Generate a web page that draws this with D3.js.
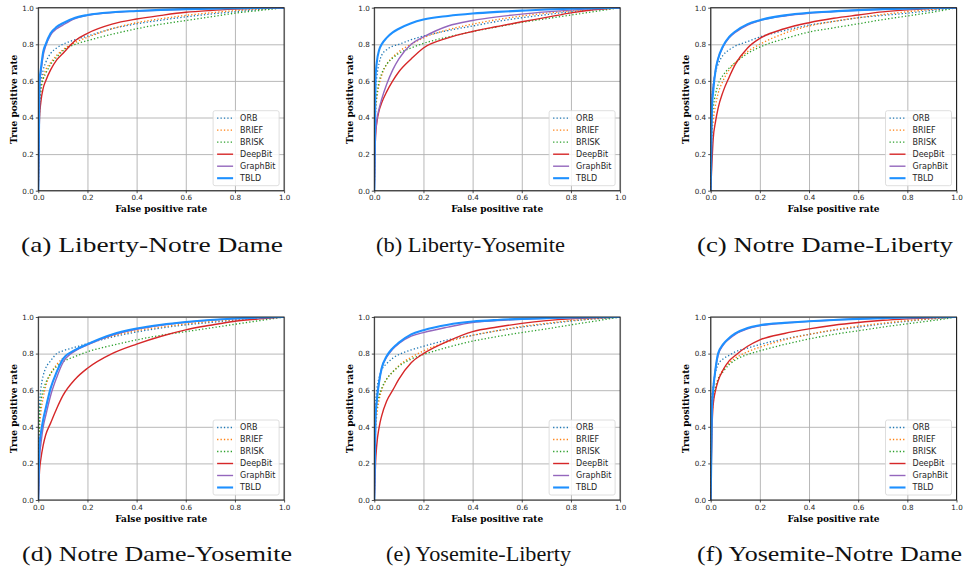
<!DOCTYPE html>
<html>
<head>
<meta charset="utf-8">
<script src="https://cdn.jsdelivr.net/npm/d3@7"></script>
<style>
  body { margin: 0; background: #fff; }
  svg { display: block; }
</style>
</head>
<body>
<svg id="fig" width="963" height="570"></svg>
<script>
// False positive rates shared by every ROC curve
const fpr = [0, 0.005, 0.01, 0.02, 0.03, 0.05, 0.075, 0.1, 0.15, 0.2, 0.3, 0.4, 0.5, 0.6, 0.7, 0.8, 0.9, 1];

const methods = ["ORB", "BRIEF", "BRISK", "DeepBit", "GraphBit", "TBLD"];
const tickValues = [0, 0.2, 0.4, 0.6, 0.8, 1.0];
const captions = [
  "(a) Liberty-Notre Dame", "(b) Liberty-Yosemite", "(c) Notre Dame-Liberty",
  "(d) Notre Dame-Yosemite", "(e) Yosemite-Liberty", "(f) Yosemite-Notre Dame"
];

// True positive rates, one row per method (same order as `methods`)
const tprLibertyNotreDame = [
  [0, .50, .58, .66, .70, .75, .78, .80, .825, .845, .885, .912, .932, .95, .965, .978, .99, 1],
  [0, .42, .54, .62, .66, .70, .74, .77, .81, .838, .885, .918, .94, .958, .972, .984, .993, 1],
  [0, .45, .54, .61, .64, .69, .73, .765, .80, .82, .855, .885, .91, .93, .95, .97, .985, 1],
  [0, .40, .48, .56, .60, .66, .715, .75, .82, .86, .91, .938, .958, .975, .985, .992, .997, 1],
  [0, .58, .64, .74, .79, .85, .885, .905, .94, .958, .973, .981, .987, .991, .995, .997, .999, 1],
  [0, .60, .66, .76, .80, .86, .895, .915, .945, .96, .975, .982, .988, .992, .995, .997, .999, 1]
];
const tprLibertyYosemite = [
  [0, .55, .62, .70, .74, .77, .79, .80, .825, .845, .875, .90, .925, .945, .962, .978, .99, 1],
  [0, .42, .50, .58, .63, .69, .73, .76, .80, .835, .88, .91, .935, .955, .97, .982, .992, 1],
  [0, .45, .52, .60, .64, .69, .725, .75, .78, .805, .84, .87, .895, .92, .94, .96, .98, 1],
  [0, .30, .37, .44, .48, .54, .60, .65, .72, .78, .835, .87, .897, .923, .947, .972, .99, 1],
  [0, .30, .38, .45, .50, .58, .66, .72, .80, .84, .90, .93, .95, .965, .977, .987, .995, 1],
  [0, .62, .70, .77, .80, .835, .865, .885, .915, .935, .955, .968, .977, .984, .99, .994, .997, 1]
];
const tprNotreDameLiberty = [
  [0, .50, .57, .65, .69, .74, .77, .79, .815, .84, .875, .905, .925, .945, .958, .97, .985, 1],
  [0, .30, .38, .47, .53, .60, .66, .70, .76, .80, .86, .90, .925, .945, .963, .978, .99, 1],
  [0, .38, .45, .53, .58, .63, .67, .70, .75, .785, .83, .867, .89, .912, .935, .955, .975, 1],
  [0, .15, .28, .38, .45, .54, .62, .69, .78, .832, .885, .918, .942, .96, .977, .988, .995, 1],
  [0, .50, .57, .66, .72, .785, .835, .865, .905, .93, .955, .97, .979, .986, .991, .995, .998, 1],
  [0, .45, .54, .66, .72, .79, .84, .87, .91, .932, .958, .972, .98, .987, .992, .995, .998, 1]
];
const tprNotreDameYosemite = [
  [0, .52, .60, .68, .72, .76, .80, .815, .835, .855, .89, .918, .94, .957, .97, .982, .992, 1],
  [0, .38, .47, .56, .62, .69, .74, .775, .82, .85, .895, .925, .945, .962, .975, .985, .993, 1],
  [0, .45, .53, .60, .64, .69, .73, .755, .785, .81, .845, .875, .90, .92, .94, .96, .98, 1],
  [0, .16, .22, .30, .355, .42, .50, .57, .66, .72, .80, .852, .895, .93, .955, .977, .99, 1],
  [0, .24, .30, .40, .46, .57, .67, .75, .815, .848, .90, .933, .955, .971, .983, .991, .997, 1],
  [0, .30, .36, .44, .50, .61, .70, .77, .82, .852, .905, .937, .958, .973, .984, .992, .997, 1]
];
const tprYosemiteLiberty = [
  [0, .52, .60, .67, .71, .745, .775, .795, .82, .84, .875, .90, .925, .945, .962, .978, .99, 1],
  [0, .38, .46, .55, .60, .66, .70, .735, .78, .815, .865, .90, .925, .948, .965, .98, .99, 1],
  [0, .42, .50, .57, .61, .66, .70, .73, .77, .795, .835, .868, .893, .915, .935, .957, .978, 1],
  [0, .20, .30, .40, .46, .54, .60, .66, .75, .80, .868, .92, .945, .965, .98, .99, .996, 1],
  [0, .45, .54, .65, .72, .78, .825, .855, .895, .915, .945, .97, .98, .988, .993, .996, .998, 1],
  [0, .45, .54, .65, .72, .785, .83, .86, .905, .928, .958, .975, .984, .99, .994, .997, .999, 1]
];
const tprYosemiteNotreDame = [
  [0, .55, .62, .70, .74, .77, .79, .81, .83, .85, .88, .905, .927, .945, .962, .977, .99, 1],
  [0, .45, .53, .61, .66, .71, .75, .775, .81, .835, .875, .905, .93, .95, .966, .98, .99, 1],
  [0, .48, .55, .62, .66, .70, .74, .765, .795, .815, .85, .88, .905, .925, .945, .963, .98, 1],
  [0, .38, .52, .60, .65, .71, .76, .79, .84, .875, .91, .935, .955, .97, .982, .99, .996, 1],
  [0, .50, .60, .72, .79, .845, .88, .905, .935, .952, .967, .976, .984, .99, .994, .997, .999, 1],
  [0, .50, .60, .72, .80, .85, .885, .91, .94, .955, .968, .977, .984, .99, .994, .997, .999, 1]
];

const panelData = [
  tprLibertyNotreDame, tprLibertyYosemite, tprNotreDameLiberty,
  tprNotreDameYosemite, tprYosemiteLiberty, tprYosemiteNotreDame
];

// Line styles per method
const styles = [
  { color: "#1f77b4", width: 1.3, dash: "1.3,2.1" },
  { color: "#ff7f0e", width: 1.3, dash: "1.3,2.1" },
  { color: "#2ca02c", width: 1.3, dash: "1.3,2.1" },
  { color: "#d62728", width: 1.4, dash: null },
  { color: "#9467bd", width: 1.4, dash: null },
  { color: "#1e90ff", width: 2.1, dash: null }
];

// Grid layout of the six panels
const colLeft = [38.3, 374.3, 710.7];
const rowTop = [7.7, 317];
const plotW = 245.8, plotH = 183;
// Caption placement under each sub-figure: centre x and rendered width
const captionCenter = [152, 470.5, 825, 157, 478.5, 829.5];
const captionWidth = [262, 189, 256, 270, 185, 265];

const svg = d3.select("#fig");
const fmt = d3.format(".1f");

panelData.forEach((rows, i) => {
  const col = i % 3, row = Math.floor(i / 3);
  const left = colLeft[col], top = rowTop[row];
  const x = d3.scaleLinear().domain([0, 1]).range([left, left + plotW]);
  const y = d3.scaleLinear().domain([0, 1]).range([top + plotH, top]);
  const g = svg.append("g");

  // grid
  g.append("g")
    .attr("transform", `translate(0,${top + plotH})`)
    .call(d3.axisBottom(x).tickValues(tickValues).tickSize(-plotH).tickFormat(""))
    .call(a => a.select(".domain").remove())
    .call(a => a.selectAll("line").attr("stroke", "#b0b0b0").attr("stroke-width", 0.9));
  g.append("g")
    .attr("transform", `translate(${left},0)`)
    .call(d3.axisLeft(y).tickValues(tickValues).tickSize(-plotW).tickFormat(""))
    .call(a => a.select(".domain").remove())
    .call(a => a.selectAll("line").attr("stroke", "#b0b0b0").attr("stroke-width", 0.9));

  // curves
  const clipId = "clip" + i;
  g.append("clipPath").attr("id", clipId)
    .append("rect").attr("x", left).attr("y", top).attr("width", plotW).attr("height", plotH);
  const line = d3.line()
    .x((d, k) => x(fpr[k]))
    .y(d => y(d))
    .curve(d3.curveMonotoneX);
  const curves = g.append("g").attr("clip-path", `url(#${clipId})`);
  rows.forEach((vals, m) => {
    const s = styles[m];
    curves.append("path")
      .datum(vals)
      .attr("d", line)
      .attr("fill", "none")
      .attr("stroke", s.color)
      .attr("stroke-width", s.width)
      .attr("stroke-dasharray", s.dash)
      .attr("stroke-linejoin", "round");
  });

  // axes with ticks and labels
  const xAxis = g.append("g")
    .attr("transform", `translate(0,${top + plotH})`)
    .call(d3.axisBottom(x).tickValues(tickValues).tickFormat(fmt).tickSize(2.5).tickPadding(2));
  const yAxis = g.append("g")
    .attr("transform", `translate(${left},0)`)
    .call(d3.axisLeft(y).tickValues(tickValues).tickFormat(fmt).tickSize(2.5).tickPadding(2));
  [xAxis, yAxis].forEach(a => {
    a.select(".domain").remove();
    a.selectAll("line").attr("stroke", "#262626").attr("stroke-width", 0.8);
    a.selectAll("text").attr("font-family", "DejaVu Sans").attr("font-size", 7.2).attr("fill", "#262626");
  });

  // frame
  g.append("rect")
    .attr("x", left).attr("y", top).attr("width", plotW).attr("height", plotH)
    .attr("fill", "none").attr("stroke", "#222").attr("stroke-width", 1);

  // axis titles
  g.append("text")
    .attr("x", left + plotW / 2).attr("y", top + plotH + 21.5)
    .attr("text-anchor", "middle")
    .attr("font-family", "DejaVu Serif").attr("font-weight", "bold").attr("font-size", 9)
    .text("False positive rate");
  g.append("text")
    .attr("transform", `translate(${left - 21.5},${top + plotH / 2}) rotate(-90)`)
    .attr("text-anchor", "middle")
    .attr("font-family", "DejaVu Serif").attr("font-weight", "bold").attr("font-size", 9)
    .text("True positive rate");

  // legend
  const lx = left + plotW - 71, ly = top + plotH - 80;
  const lg = g.append("g");
  lg.append("rect")
    .attr("x", lx).attr("y", ly).attr("width", 66).attr("height", 75)
    .attr("rx", 2).attr("fill", "#fff").attr("fill-opacity", 0.85)
    .attr("stroke", "#d6d6d6").attr("stroke-width", 0.8);
  methods.forEach((name, m) => {
    const s = styles[m];
    const cy = ly + 7.5 + m * 12;
    lg.append("line")
      .attr("x1", lx + 4).attr("x2", lx + 20).attr("y1", cy).attr("y2", cy)
      .attr("stroke", s.color).attr("stroke-width", s.width).attr("stroke-dasharray", s.dash);
    lg.append("text")
      .attr("x", lx + 27).attr("y", cy + 2.9)
      .attr("font-family", "DejaVu Sans").attr("font-size", 8).attr("fill", "#262626")
      .text(name);
  });

  // caption
  svg.append("text")
    .attr("x", captionCenter[i]).attr("y", top + 244)
    .attr("text-anchor", "middle")
    .attr("font-family", "Liberation Serif").attr("font-size", 21.5)
    .attr("textLength", captionWidth[i]).attr("lengthAdjust", "spacingAndGlyphs")
    .attr("fill", "#111")
    .text(captions[i]);
});
</script>
</body>
</html>
